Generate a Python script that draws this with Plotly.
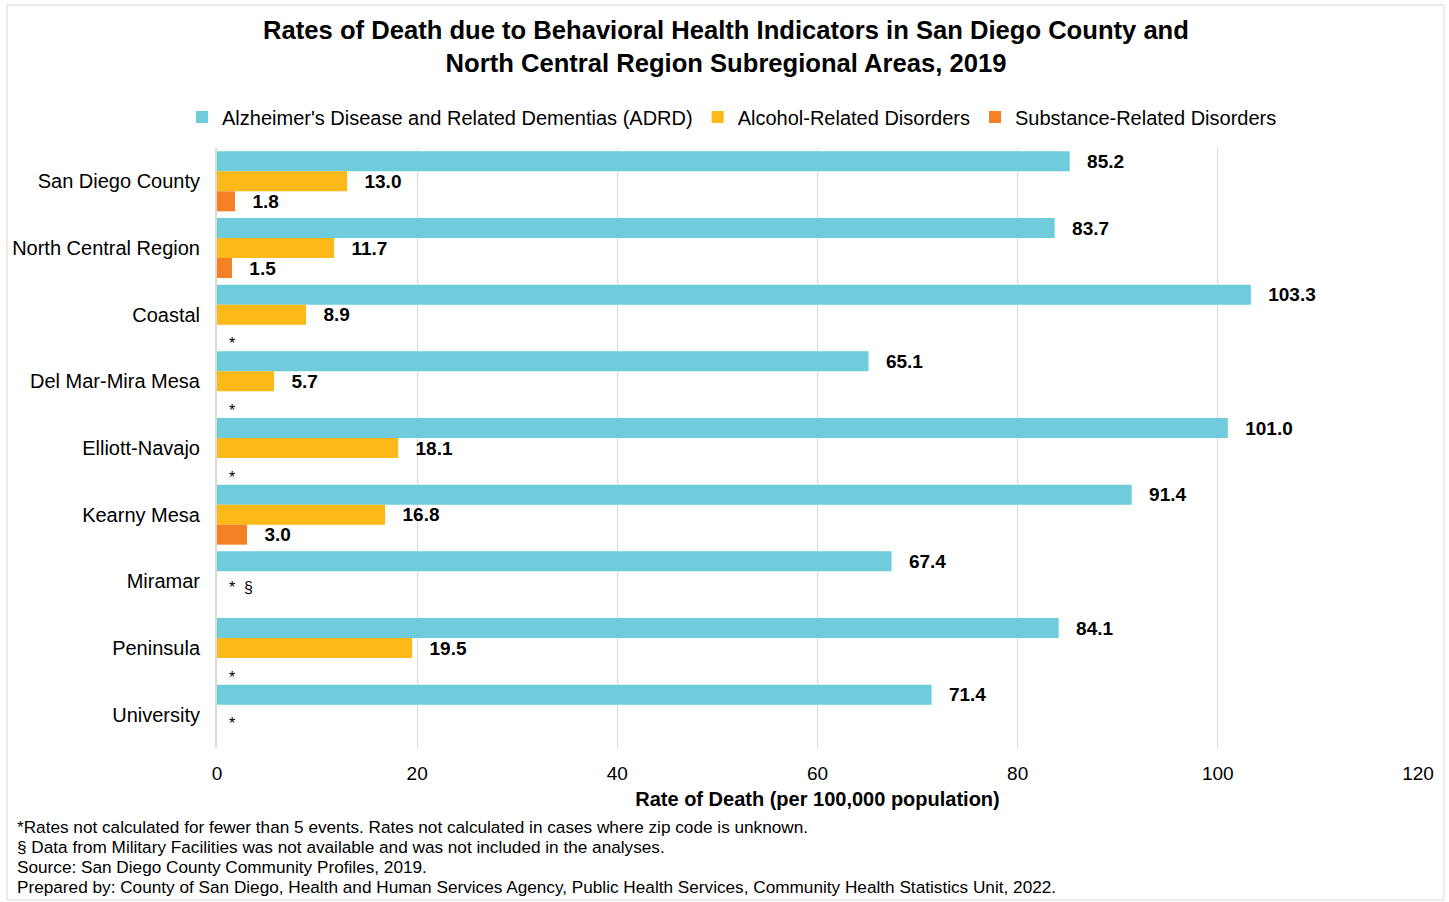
import plotly.graph_objects as go

categories = ["San Diego County", "North Central Region", "Coastal", "Del Mar-Mira Mesa",
              "Elliott-Navajo", "Kearny Mesa", "Miramar", "Peninsula", "University"]
adrd = [85.2, 83.7, 103.3, 65.1, 101.0, 91.4, 67.4, 84.1, 71.4]
alcohol = [13.0, 11.7, 8.9, 5.7, 18.1, 16.8, None, 19.5, None]
substance = [1.8, 1.5, None, None, None, 3.0, None, None, None]
series_names = ["Alzheimer's Disease and Related Dementias (ADRD)",
                "Alcohol-Related Disorders", "Substance-Related Disorders"]
colors = ["#6ECCDD", "#FDB917", "#F58025"]

# suppressed-value markers: (category, text, vertical offset in px)
suppressed = [("Coastal", "*", -29), ("Del Mar-Mira Mesa", "*", -29),
              ("Elliott-Navajo", "*", -29), ("Miramar", "*  §", -6),
              ("Peninsula", "*", -29), ("University", "*", -9)]

footnotes = [
    "*Rates not calculated for fewer than 5 events. Rates not calculated in cases where zip code is unknown.",
    "§ Data from Military Facilities was not available and was not included in the analyses.",
    "Source: San Diego County Community Profiles, 2019.",
    "Prepared by: County of San Diego, Health and Human Services Agency, Public Health Services, Community Health Statistics Unit, 2022.",
]

FONT = "Liberation Sans, Arial, sans-serif"
W, H = 1449, 902
L, R, T, B = 217, 31, 148, 154
PW, PH = W - L - R, H - T - B

def px_x(px):
    return (px - L) / PW

def px_y(py):
    return (H - B - py) / PH

fig = go.Figure()
for name, vals, col in zip(series_names, [adrd, alcohol, substance], colors):
    fig.add_trace(go.Bar(
        y=categories, x=vals, name=name, orientation="h",
        marker=dict(color=col, line=dict(width=0)),
        text=[None if v is None else f"\u00a0\u00a0\u2009{v:.1f}" for v in vals],
        textposition="outside", constraintext="none", cliponaxis=False,
        textfont=dict(family=FONT, size=19, color="#000000", weight="bold"),
        hoverinfo="x+name",
    ))

annotations = []
for cat, txt, dy in suppressed:
    annotations.append(dict(x=0, y=cat, xref="x", yref="y", text=txt, showarrow=False,
                            xanchor="left", yanchor="middle", xshift=10, yshift=dy,
                            font=dict(family=FONT, size=16, color="#000000")))
for i, line in enumerate(footnotes):
    annotations.append(dict(x=px_x(15), y=px_y(827 + 20 * i), xref="paper", yref="paper",
                            text=line, showarrow=False, xanchor="left", yanchor="middle",
                            font=dict(family=FONT, size=17.2, color="#000000")))

fig.update_layout(
    width=W, height=H,
    margin=dict(l=L, r=R, t=T, b=B),
    paper_bgcolor="white", plot_bgcolor="white",
    font=dict(family=FONT, color="#000000"),
    barmode="group", bargap=0.1, bargroupgap=0,
    title=dict(text="<b>Rates of Death due to Behavioral Health Indicators in San Diego County and<br>North Central Region Subregional Areas, 2019</b>",
               x=726 / W, xanchor="center", y=1 - 38.5 / H, yanchor="middle",
               xref="container", yref="container",
               font=dict(family=FONT, size=25.6, color="#000000")),
    legend=dict(orientation="h", x=px_x(732), xanchor="center", y=px_y(117), yanchor="middle",
                font=dict(family=FONT, size=20, color="#000000"),
                itemwidth=30, tracegroupgap=0),
    xaxis=dict(range=[0, 120], dtick=20, showgrid=True, gridcolor="#D9D9D9", gridwidth=1,
               zeroline=False, showline=False, ticks="", ticklabelstandoff=12,
               tickfont=dict(family=FONT, size=19, color="#000000"),
               title=dict(text="<b>Rate of Death (per 100,000 population)</b>", standoff=8,
                          font=dict(family=FONT, size=20, color="#000000"))),
    yaxis=dict(autorange="reversed", showline=True, linecolor="#D9D9D9", linewidth=2,
               showgrid=False, ticks="", ticklabelstandoff=11,
               tickfont=dict(family=FONT, size=20, color="#000000")),
    annotations=annotations,
    shapes=[dict(type="rect", xref="paper", yref="paper",
                 x0=px_x(7), x1=px_x(1444), y0=px_y(900), y1=px_y(5),
                 line=dict(color="#D9D9D9", width=1), fillcolor="rgba(0,0,0,0)", layer="below")],
)

fig.write_html("out.html", config={"displayModeBar": False},
               post_script="document.body.style.margin='0px';")
